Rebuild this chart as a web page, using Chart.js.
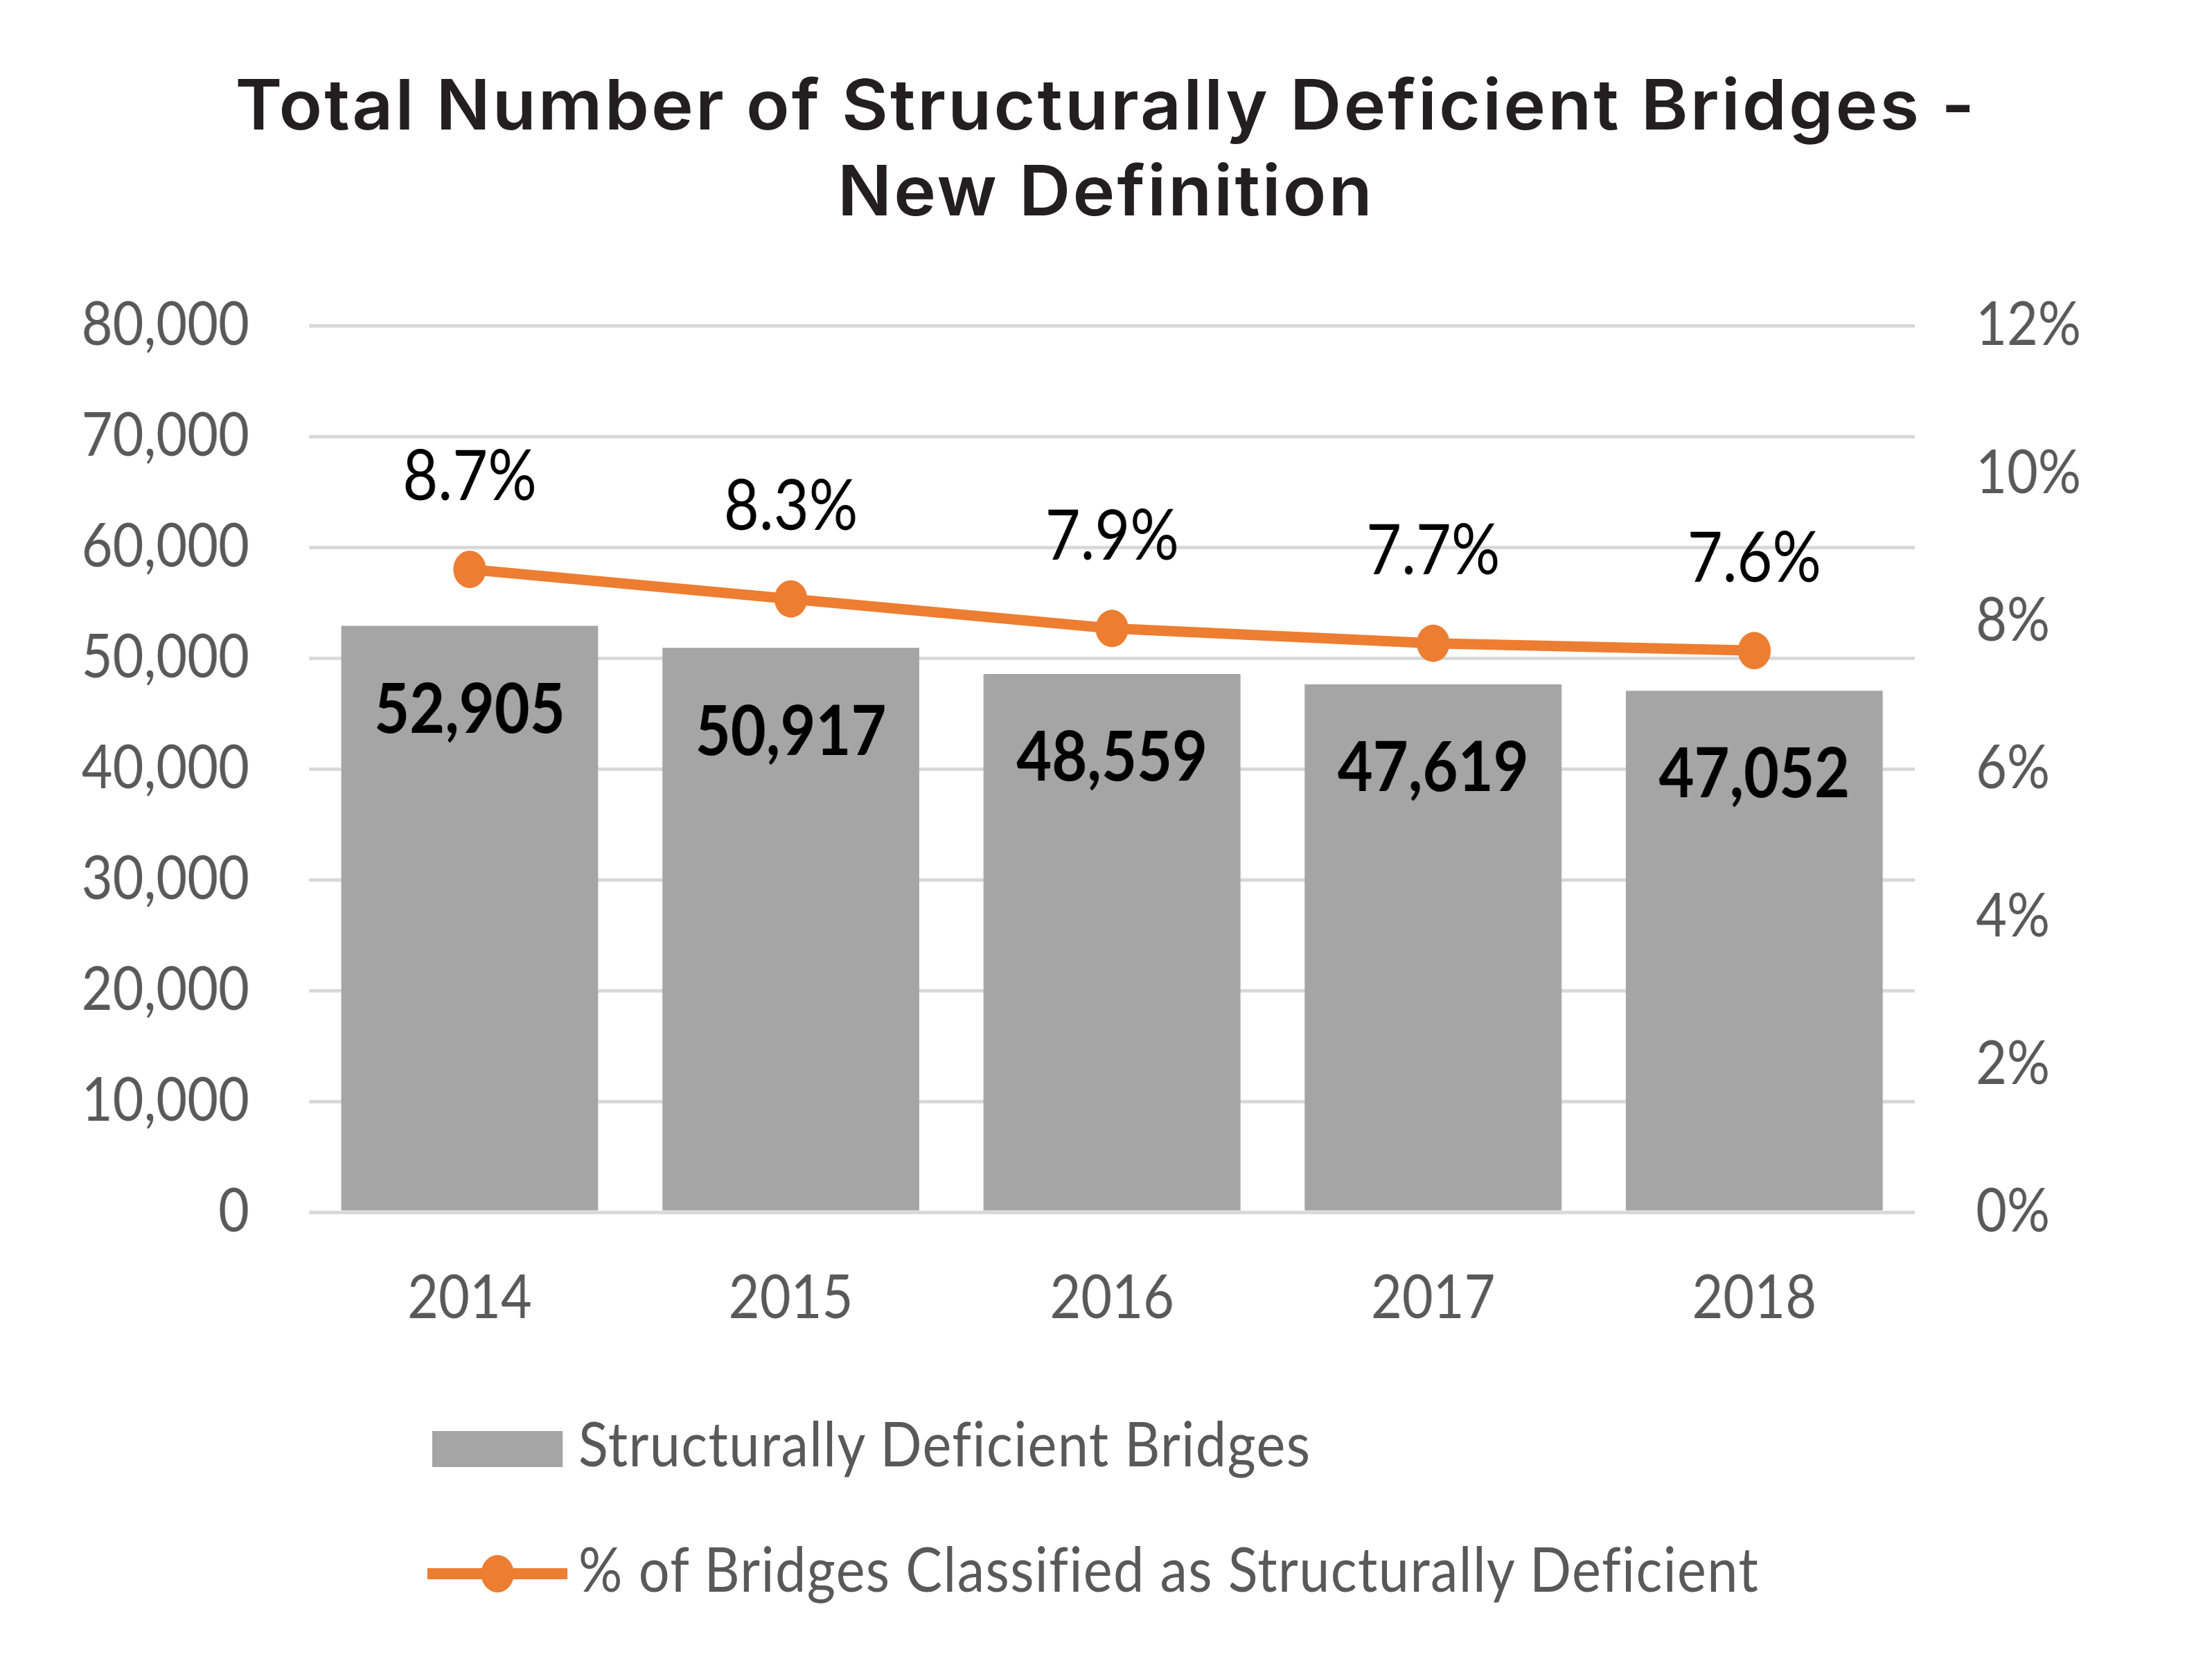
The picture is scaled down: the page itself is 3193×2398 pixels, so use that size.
<!DOCTYPE html>
<html>
<head>
<meta charset="utf-8">
<title>Structurally Deficient Bridges</title>
<script src="https://cdn.jsdelivr.net/npm/chart.js@4/dist/chart.umd.min.js"></script>
<style>
  html, body { margin: 0; padding: 0; background: #fff; overflow: hidden; }
  /* the reference is an Excel chart squeezed horizontally, so lay out wide and squeeze */
  #wrap {
    position: absolute; left: 0; top: 0;
    width: 3628px; height: 2398px;
    transform: scaleX(0.88); transform-origin: 0 0;
  }
  #title {
    position: absolute; left: 0; top: 89px; width: 100%;
    text-align: center;
    font-family: Inter, "Noto Sans", sans-serif;
    font-weight: 600; font-size: 100px; line-height: 124px;
    letter-spacing: 3px; color: #231f20;
    /* the title face in the reference is a wide geometric sans */
    transform: scaleX(1.17); transform-origin: 50% 0;
  }
  #chart-box { position: absolute; left: 0; top: 0; width: 3628px; height: 2398px; }
  .legend-text {
    position: absolute; left: 949px;
    font-family: Lato, sans-serif; font-size: 90px; line-height: 90px;
    letter-spacing: 1.6px;
    color: #595959; white-space: nowrap;
  }
  .swatch { position: absolute; }
</style>
</head>
<body>
<div id="wrap">
  <div id="title">Total Number of Structurally Deficient Bridges -<br>New Definition</div>
  <div id="chart-box"><canvas id="chart"></canvas></div>
  <div id="legend">
    <div class="swatch" style="left:709px;top:2066px;width:214px;height:52px;background:#a5a5a5"></div>
    <div class="legend-text" style="top:2037px">Structurally Deficient Bridges</div>
    <div class="swatch" style="left:701px;top:2264px;width:230px;height:16px;background:#ed7d31"></div>
    <div class="swatch" style="left:789px;top:2245px;width:54px;height:54px;border-radius:50%;background:#ed7d31"></div>
    <div class="legend-text" style="top:2218px">% of Bridges Classified as Structurally Deficient</div>
  </div>
</div>
<script>
// ============================================================
// Data
// ============================================================

const YEARS = ['2014', '2015', '2016', '2017', '2018'];
const DEFICIENT_BRIDGES = [52905, 50917, 48559, 47619, 47052];
const PCT_DEFICIENT = [0.087, 0.083, 0.079, 0.077, 0.076];

const LEFT_MAX = 80000;
const LEFT_STEP = 10000;
const RIGHT_MAX = 0.12;
const RIGHT_STEP = 0.02;

const BAR_COLOR = '#a5a5a5';
const LINE_COLOR = '#ed7d31';
const AXIS_TEXT = '#595959';
const GRID_COLOR = '#d9d9d9';

// ============================================================
// Value labels (bars: inside the top, line: above the point)
// ============================================================

const valueLabels = {
  id: 'valueLabels',
  afterDatasetsDraw(chart) {
    const ctx = chart.ctx;
    ctx.save();
    ctx.textAlign = 'center';
    ctx.textBaseline = 'middle';
    ctx.fillStyle = '#000';

    const bars = chart.getDatasetMeta(1);
    ctx.font = 'bold 100px Lato, sans-serif';
    bars.data.forEach((el, i) => {
      ctx.fillText(DEFICIENT_BRIDGES[i].toLocaleString('en-US'), el.x, el.y + 122);
    });

    const pts = chart.getDatasetMeta(0);
    ctx.font = '100px Lato, sans-serif';
    pts.data.forEach((el, i) => {
      ctx.fillText((PCT_DEFICIENT[i] * 100).toFixed(1) + '%', el.x, el.y - 132);
    });
    ctx.restore();
  },
};

// ============================================================
// Chart
// ============================================================

const tickFont = { family: 'Lato, sans-serif', size: 88 };

new Chart(document.getElementById('chart'), {
  data: {
    labels: YEARS,
    datasets: [
      {
        type: 'line',
        label: '% of Bridges Classified as Structurally Deficient',
        data: PCT_DEFICIENT,
        yAxisID: 'yRight',
        borderColor: LINE_COLOR,
        backgroundColor: LINE_COLOR,
        borderWidth: 15,
        pointRadius: 27,
        pointBorderWidth: 0,
        tension: 0,
        order: 0,
      },
      {
        type: 'bar',
        label: 'Structurally Deficient Bridges',
        data: DEFICIENT_BRIDGES,
        yAxisID: 'y',
        backgroundColor: BAR_COLOR,
        barPercentage: 0.8,
        categoryPercentage: 1.0,
        order: 1,
      },
    ],
  },
  options: {
    responsive: true,
    maintainAspectRatio: false,
    animation: false,
    devicePixelRatio: 1,
    layout: { padding: { top: 470, left: 0, right: 0, bottom: 0 } },
    plugins: {
      legend: { display: false },
      title: { display: false },
      tooltip: { enabled: false },
    },
    scales: {
      x: {
        grid: { display: false },
        border: { display: false },
        ticks: { font: tickFont, color: AXIS_TEXT, padding: 64 },
        afterFit: (s) => { s.height = 648; },
      },
      y: {
        position: 'left',
        min: 0,
        max: LEFT_MAX,
        ticks: {
          stepSize: LEFT_STEP,
          font: tickFont,
          color: AXIS_TEXT,
          padding: 98,
          callback: (v) => v.toLocaleString('en-US'),
        },
        grid: { color: GRID_COLOR, lineWidth: 5, drawTicks: false },
        border: { display: false },
        afterFit: (s) => { s.width = 507; },
      },
      yRight: {
        position: 'right',
        min: 0,
        max: RIGHT_MAX,
        ticks: {
          stepSize: RIGHT_STEP,
          font: tickFont,
          color: AXIS_TEXT,
          padding: 100,
          callback: (v) => Math.round(v * 100) + '%',
        },
        grid: { drawOnChartArea: false, drawTicks: false },
        border: { display: false },
        afterFit: (s) => { s.width = 487; },
      },
    },
  },
  plugins: [valueLabels],
});
</script>
</body>
</html>
